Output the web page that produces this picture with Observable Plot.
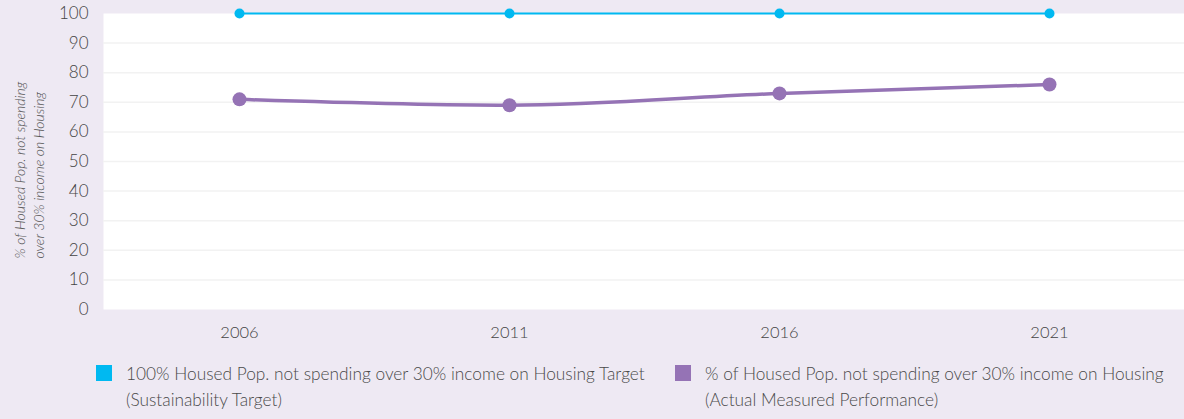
<!DOCTYPE html>
<html>
<head>
<meta charset="utf-8">
<script src="https://cdn.jsdelivr.net/npm/d3@7"></script>
<script src="https://cdn.jsdelivr.net/npm/@observablehq/plot@0.6"></script>
<style>
  html, body { margin: 0; padding: 0; background: #EEE9F3; }
  body { width: 1184px; height: 419px; overflow: hidden; font-family: Lato, sans-serif; font-weight: 300; color: #4a4a4a; }
  #legend { position: relative; height: 74px; }
  .item { position: absolute; top: 20px; display: flex; align-items: flex-start; }
  .sw { width: 16px; height: 16px; margin-right: 14px; flex: none; }
  .lbl { font-size: 17.3px; line-height: 26px; margin-top: -4px; }
  svg text { font-weight: 300; }
</style>
</head>
<body>
<div id="chart"></div>
<div id="legend"></div>
<script>
const years = ["2006", "2011", "2016", "2021"];
const targetValues = [100, 100, 100, 100];
const actualValues = [71, 69, 73, 76];
const yTicks = [0, 10, 20, 30, 40, 50, 60, 70, 80, 90, 100];
const yLabel = "% of Housed Pop. not spending\nover 30% income on Housing";
const seriesNames = [
  "100% Housed Pop. not spending over 30% income on Housing Target\n(Sustainability Target)",
  "% of Housed Pop. not spending over 30% income on Housing\n(Actual Measured Performance)"
];
const colors = ["#00B9F1", "#9573B5"];

const target = years.map((y, i) => ({year: y, value: targetValues[i]}));
const actual = years.map((y, i) => ({year: y, value: actualValues[i]}));

const chart = Plot.plot({
  width: 1184,
  height: 345,
  marginLeft: 103,
  marginRight: 0,
  marginTop: 13,
  marginBottom: 36,
  style: {background: "transparent", fontFamily: "Lato, sans-serif", color: "#4a4a4a", overflow: "visible"},
  x: {type: "point", domain: years, padding: 0.5, label: null},
  y: {domain: [0, 100], label: null},
  marks: [
    Plot.frame({fill: "white", stroke: null}),
    Plot.gridY(yTicks.filter(d => d > 0 && d < 100), {stroke: "#F2F2F2", strokeOpacity: 1, strokeWidth: 1.5}),
    Plot.axisY(yTicks, {tickSize: 0, tickPadding: 15, fontSize: 17, fill: "#444", label: null}),
    Plot.axisX(years, {tickSize: 0, tickPadding: 17, fontSize: 16.5, fill: "#444", label: null}),
    Plot.line(target, {x: "year", y: "value", stroke: colors[0], strokeWidth: 2}),
    Plot.dot(target, {x: "year", y: "value", r: 5, fill: colors[0], stroke: null}),
    Plot.line(actual, {x: "year", y: "value", stroke: colors[1], strokeWidth: 3.5, curve: "monotone-x"}),
    Plot.dot(actual, {x: "year", y: "value", r: 7, fill: colors[1], stroke: null}),
    Plot.text([yLabel], {frameAnchor: "left", rotate: -90, textAnchor: "start", lineAnchor: "middle",
      dx: -75, dy: 97, fontSize: 14, fontStyle: "italic", lineHeight: 1.35, fill: "#555"})
  ]
});
document.getElementById("chart").appendChild(chart);

const legend = document.getElementById("legend");
const lefts = [96, 675];
seriesNames.forEach((name, i) => {
  const item = document.createElement("div");
  item.className = "item";
  item.style.left = lefts[i] + "px";
  const sw = document.createElement("div");
  sw.className = "sw";
  sw.style.background = colors[i];
  const lbl = document.createElement("div");
  lbl.className = "lbl";
  lbl.innerHTML = name.split("\n").join("<br>");
  item.appendChild(sw);
  item.appendChild(lbl);
  legend.appendChild(item);
});
</script>
</body>
</html>
